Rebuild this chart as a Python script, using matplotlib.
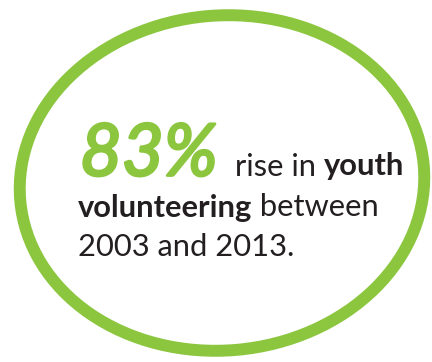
import matplotlib.pyplot as plt
from matplotlib.patches import Ellipse
import matplotlib.patheffects as pe

# Inhalt der Grafik
kennzahl = "83%"
zeile1 = [("rise in ", "normal"), ("youth", "bold")]
zeile2 = [("volunteering", "bold"), (" between", "normal")]
zeile3 = [("2003 and 2013.", "normal")]

gruen = "#8cc63f"
textfarbe = "#231f20"

fig = plt.figure(figsize=(4.32, 3.62), dpi=100)
ax = fig.add_axes([0, 0, 1, 1])
ax.set_xlim(0, 432)
ax.set_ylim(362, 0)
ax.axis("off")

# Handgezeichneter Kreis (angenaehert als Ellipse)
kreis = Ellipse((222, 183), 405, 335, angle=-5, fill=False,
                edgecolor=gruen, linewidth=8.6)
ax.add_patch(kreis)

# grosse Zahl
ax.text(80, 175.5, kennzahl, fontsize=52, color=gruen, style="italic",
        family="Lato", va="baseline",
        path_effects=[pe.Stroke(linewidth=2, foreground=gruen), pe.Normal()])

renderer = fig.canvas.get_renderer()


def zeile_schreiben(x, y, teile):
    for txt, gewicht in teile:
        t = ax.text(x, y, txt, fontsize=22.2, color=textfarbe, weight=gewicht,
                    family="Lato", va="baseline")
        bb = t.get_window_extent(renderer=renderer)
        x = ax.transData.inverted().transform((bb.x1, bb.y0))[0]


zeile_schreiben(235, 175.5, zeile1)
zeile_schreiben(78, 216.5, zeile2)
zeile_schreiben(78, 256.5, zeile3)

plt.savefig("out.png", dpi=100)
